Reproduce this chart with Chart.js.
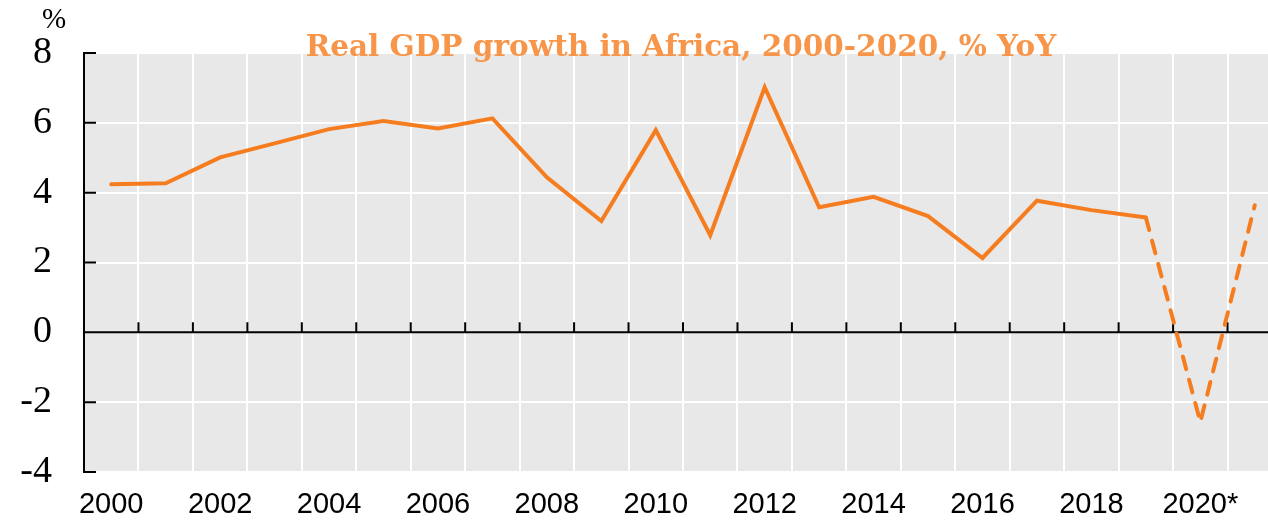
<!DOCTYPE html>
<html>
<head>
<meta charset="utf-8">
<script src="https://cdn.jsdelivr.net/npm/chart.js@4"></script>
<style>
  html, body { margin: 0; padding: 0; background: #fff; overflow: hidden; }
  #wrap { width: 1282px; height: 524px; }
</style>
</head>
<body>
<div id="wrap"><canvas id="gdpChart" width="1282" height="524"></canvas></div>
<script>
// Real GDP growth in Africa, % YoY (2020 and 2021 are projections)
var years = [2000, 2001, 2002, 2003, 2004, 2005, 2006, 2007, 2008, 2009, 2010,
             2011, 2012, 2013, 2014, 2015, 2016, 2017, 2018, 2019, 2020, 2021];
var tickLabels = ['2000', '', '2002', '', '2004', '', '2006', '', '2008', '', '2010',
                  '', '2012', '', '2014', '', '2016', '', '2018', '', '2020*', ''];
var growth = [4.24, 4.27, 5.01, 5.41, 5.82, 6.05, 5.84, 6.13, 4.44, 3.19, 5.79,
              2.78, 7.02, 3.58, 3.88, 3.33, 2.13, 3.77, 3.50, 3.29, -2.57, 3.64];
var firstProjected = 2020; // dashed from the 2019 point onwards
var yTicks = [-4, -2, 0, 2, 4, 6, 8];

var lineColor = '#f57d20';
var titleColor = '#f7964a';
var projIndex = years.indexOf(firstProjected);

// background, zero line, inward ticks, title and unit label
var decorations = {
    id: 'decorations',
    beforeDraw: function(chart) {
        var a = chart.chartArea, ctx = chart.ctx;
        ctx.save();
        ctx.fillStyle = '#e8e8e8';
        ctx.fillRect(a.left, a.top, a.right - a.left, a.bottom - a.top);
        ctx.restore();
    },
    beforeDatasetsDraw: function(chart) {
        var a = chart.chartArea, ctx = chart.ctx;
        var x = chart.scales.x, y = chart.scales.y;
        var y0 = y.getPixelForValue(0);
        ctx.save();
        ctx.strokeStyle = '#000';
        ctx.lineWidth = 2;
        ctx.beginPath();
        ctx.moveTo(a.left, y0);
        ctx.lineTo(a.right, y0);
        // tick marks on the zero line, between categories
        for (var i = 1; i < years.length; i++) {
            var px = (x.getPixelForValue(i - 1) + x.getPixelForValue(i)) / 2;
            ctx.moveTo(px, y0);
            ctx.lineTo(px, y0 - 10);
        }
        // inward ticks on the y axis
        yTicks.forEach(function(v) {
            var py = y.getPixelForValue(v);
            ctx.moveTo(a.left, py);
            ctx.lineTo(a.left + 12, py);
        });
        ctx.stroke();
        ctx.restore();
    },
    afterDraw: function(chart) {
        var ctx = chart.ctx;
        ctx.save();
        ctx.fillStyle = titleColor;
        ctx.font = 'bold 29.5px "DejaVu Serif"';
        ctx.textAlign = 'center';
        ctx.textBaseline = 'alphabetic';
        ctx.fillText('Real GDP growth in Africa, 2000-2020, % YoY', 681, 56);
        ctx.fillStyle = '#000';
        ctx.font = '29px "Liberation Serif"';
        ctx.fillText('%', 54, 28);
        ctx.restore();
    }
};

var ctx = document.getElementById('gdpChart').getContext('2d');
var gdpChart = new Chart(ctx, {
    type: 'line',
    data: {
        labels: tickLabels,
        datasets: [{
            label: 'Real GDP growth',
            data: growth,
            borderColor: lineColor,
            borderWidth: 4,
            pointRadius: 0,
            tension: 0,
            borderCapStyle: 'round',
            borderJoinStyle: 'miter',
            segment: {
                borderDash: function(c) {
                    return c.p1DataIndex >= projIndex ? [13, 11] : undefined;
                }
            }
        }]
    },
    options: {
        responsive: false,
        animation: false,
        layout: { padding: { top: 53, left: 0, right: 0, bottom: 0 } },
        plugins: {
            legend: { display: false },
            tooltip: { enabled: false }
        },
        scales: {
            x: {
                type: 'category',
                offset: true,
                border: { display: false },
                grid: {
                    offset: true,
                    color: '#ffffff',
                    lineWidth: 2,
                    drawTicks: false
                },
                ticks: {
                    autoSkip: false,
                    maxRotation: 0,
                    color: '#000',
                    padding: 16,
                    font: { family: '"Liberation Sans", Arial', size: 29 }
                },
                afterFit: function(scale) { scale.height = 52; }
            },
            y: {
                min: -4,
                max: 8,
                border: { display: true, color: '#000', width: 2 },
                grid: {
                    color: function(c) { return c.tick && c.tick.value === 0 ? 'rgba(0,0,0,0)' : '#ffffff'; },
                    lineWidth: 2,
                    drawTicks: false
                },
                afterBuildTicks: function(scale) {
                    scale.ticks = yTicks.map(function(v) { return { value: v }; });
                },
                ticks: {
                    color: '#000',
                    padding: 32,
                    font: { family: '"Liberation Serif", serif', size: 38, lineHeight: 0.8 }
                },
                afterFit: function(scale) { scale.width = 84; }
            }
        }
    },
    plugins: [decorations]
});
</script>
</body>
</html>
